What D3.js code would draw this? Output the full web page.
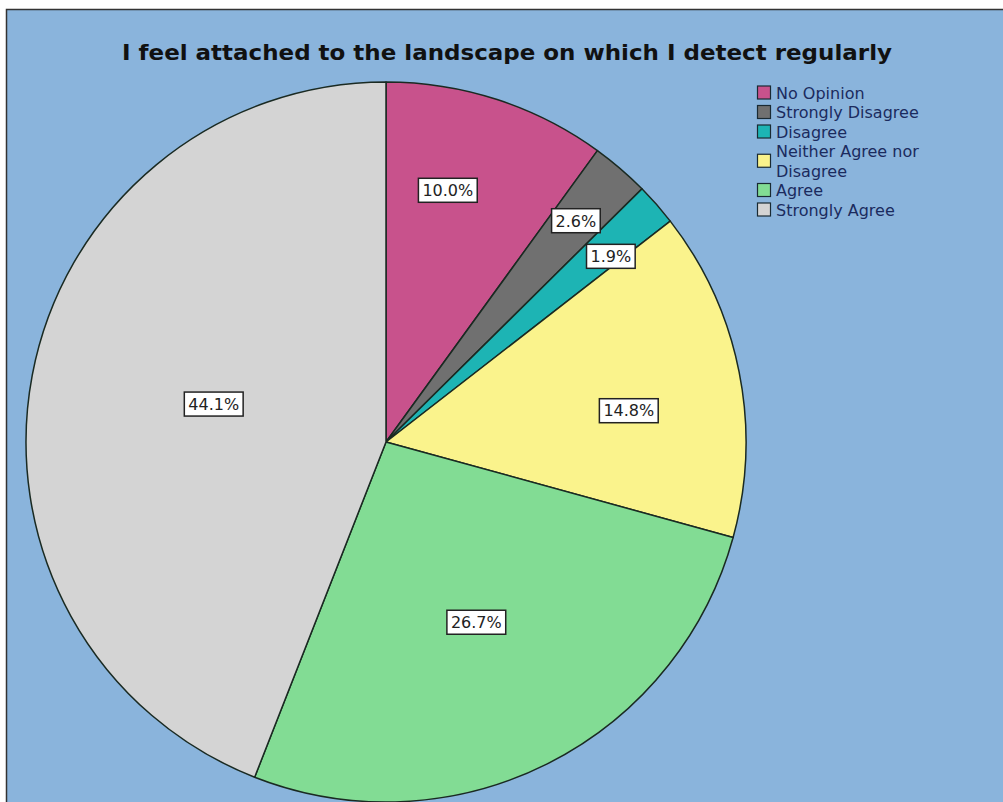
<!DOCTYPE html>
<html><head><meta charset="utf-8">
<script src="https://cdn.jsdelivr.net/npm/d3@7"></script>
<style>html,body{margin:0;padding:0;background:#fff;}svg{display:block;}</style>
</head><body>
<svg id="chart" width="1003" height="802"></svg>
<script>
const categories = ["No Opinion","Strongly Disagree","Disagree","Neither Agree nor Disagree","Agree","Strongly Agree"];
const legendLabels = [["No Opinion"],["Strongly Disagree"],["Disagree"],["Neither Agree nor","Disagree"],["Agree"],["Strongly Agree"]];
const values = [10.0, 2.6, 1.9, 14.8, 26.7, 44.1];
const valueLabels = ["10.0%","2.6%","1.9%","14.8%","26.7%","44.1%"];
const colors = ["#C8528C","#707070","#1DB4B4","#FAF38C","#82DC94","#D4D4D4"];
const labelRadiusFrac = [0.72, 0.81, 0.81, 0.68, 0.56, 0.49];
const labelAngleShift = [-0.073, 0, 0.03, 0.068, 0, 0.03];
const title = "I feel attached to the landscape on which I detect regularly";

const svg = d3.select("#chart");
svg.append("rect").attr("x",6.5).attr("y",9.5).attr("width",1000).attr("height",800)
  .attr("fill","#8AB4DC").attr("stroke","#333").attr("stroke-width",1.5);

svg.append("text").attr("x",507).attr("y",60).attr("text-anchor","middle")
  .attr("font-family","DejaVu Sans, sans-serif").attr("font-weight","bold").attr("font-size",22)
  .attr("fill","#111").attr("textLength",770).attr("lengthAdjust","spacingAndGlyphs").text(title);

const cx = 386, cy = 442, R = 360;
const pie = d3.pie().sort(null).value(d=>d)(values);
const arc = d3.arc().innerRadius(0).outerRadius(R);
const g = svg.append("g").attr("transform",`translate(${cx},${cy})`);
g.selectAll("path").data(pie).join("path").attr("d",arc)
  .attr("fill",(d,i)=>colors[i]).attr("stroke","#1a2a22").attr("stroke-width",1.5).attr("stroke-linejoin","round");

const lg = g.append("g");
pie.forEach((d,i)=>{
  const a = (d.startAngle+d.endAngle)/2 + labelAngleShift[i];
  const r = R*labelRadiusFrac[i];
  const x = Math.sin(a)*r, y = -Math.cos(a)*r;
  const t = lg.append("text").attr("x",x).attr("y",y).attr("dy","0.36em").attr("text-anchor","middle")
    .attr("font-family","DejaVu Sans, sans-serif").attr("font-size",16).attr("fill","#222").text(valueLabels[i]);
  const bb = t.node().getBBox();
  lg.insert("rect","text").attr("x",bb.x-4).attr("y",y-12).attr("width",bb.width+8).attr("height",24)
    .attr("fill","#fff").attr("stroke","#222").attr("stroke-width",1.5);
});
lg.selectAll("text").raise();

const leg = svg.append("g");
let yy = 93;
legendLabels.forEach((lines,i)=>{
  const h = lines.length*19.5;
  const midY = yy + (lines.length-1)*19.5/2;
  leg.append("rect").attr("x",757.5).attr("y",midY-7).attr("width",13).attr("height",13)
    .attr("fill",colors[i]).attr("stroke","#1a2a33").attr("stroke-width",1.2);
  lines.forEach((ln,j)=>{
    leg.append("text").attr("x",776).attr("y",yy+j*19.5).attr("dy","0.35em")
      .attr("font-family","DejaVu Sans, sans-serif").attr("font-size",16).attr("fill","#1b2b5e").text(ln);
  });
  yy += h;
});
</script>
</body></html>
